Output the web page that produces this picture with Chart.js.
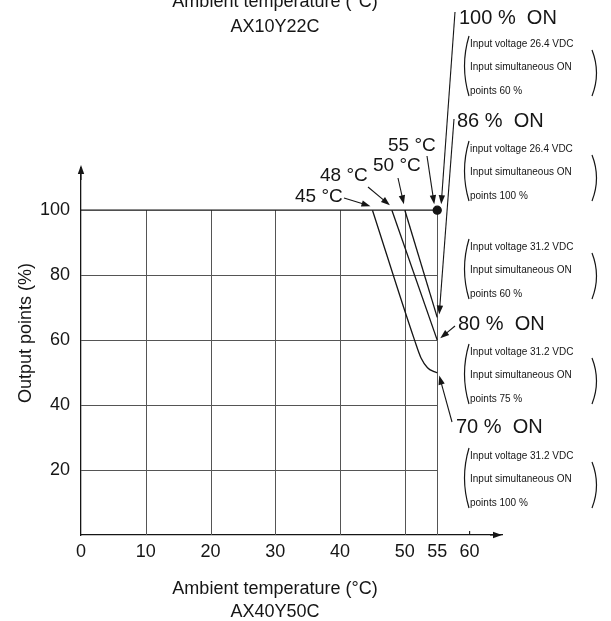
<!DOCTYPE html>
<html>
  <head>
    <title>Derating</title>
    <style>
      body { margin: 0; background: #fff; }
    </style>
  </head>
  <body>
    <canvas id="canvas" width="611" height="621"></canvas>
    <script src="https://cdn.jsdelivr.net/npm/chart.js@4"></script>
    <script>
      // axis ticks
      const xTicks = [0, 10, 20, 30, 40, 50, 55, 60];
      const yTicks = [20, 40, 60, 80, 100];
      const gridX = [10, 20, 30, 40, 50, 55];
      const gridY = [20, 40, 60, 80];

      // derating curves (temperature, output points %)
      const temps100 = [0, 55];
      const vals100 = [100, 100];
      const temps86 = [50, 55];
      const vals86 = [100, 67];
      const temps80 = [48, 55];
      const vals80 = [100, 60];
      const temps70 = [45, 51.5, 52.5, 53.5, 54.5, 55];
      const vals70 = [100, 60, 54.5, 51.5, 50.3, 50];

      // labels
      const startTemps = [45, 48, 50, 55];
      const startLabels = ["45 °C", "48 °C", "50 °C", "55 °C"];
      const onLabels = ["100 %  ON", "86 %  ON", "80 %  ON", "70 %  ON"];
      const conditions = [
        ["Input voltage 26.4 VDC", "Input simultaneous ON", "points 60 %"],
        ["input voltage 26.4 VDC", "Input simultaneous ON", "points 100 %"],
        ["Input voltage 31.2 VDC", "Input simultaneous ON", "points 60 %"],
        ["Input voltage 31.2 VDC", "Input simultaneous ON", "points 75 %"],
        ["Input voltage 31.2 VDC", "Input simultaneous ON", "points 100 %"]
      ];

      const FONT = '"Liberation Sans", Arial, sans-serif';
      const INK = "#151515";

      const pts = (xs, ys) => xs.map((x, i) => ({ x: x, y: ys[i] }));

      function arrow(ctx, x1, y1, x2, y2) {
        const a = Math.atan2(y2 - y1, x2 - x1);
        const len = 9, w = 3.2;
        ctx.beginPath();
        ctx.moveTo(x1, y1);
        ctx.lineTo(x2 - Math.cos(a) * len * 0.8, y2 - Math.sin(a) * len * 0.8);
        ctx.stroke();
        ctx.beginPath();
        ctx.moveTo(x2, y2);
        ctx.lineTo(x2 - Math.cos(a) * len - Math.sin(a) * w, y2 - Math.sin(a) * len + Math.cos(a) * w);
        ctx.lineTo(x2 - Math.cos(a) * len + Math.sin(a) * w, y2 - Math.sin(a) * len - Math.cos(a) * w);
        ctx.closePath();
        ctx.fill();
      }

      function paren(ctx, x, y1, y2, dir) {
        // dir 1 = "(", -1 = ")"
        ctx.beginPath();
        ctx.moveTo(x + dir * 5, y1);
        ctx.quadraticCurveTo(x - dir * 4, (y1 + y2) / 2, x + dir * 5, y2);
        ctx.stroke();
      }

      const decor = {
        id: "decor",
        beforeDatasetsDraw(chart) {
          const ctx = chart.ctx;
          const xs = chart.scales.x, ys = chart.scales.y;
          ctx.save();
          ctx.strokeStyle = "#555";
          ctx.lineWidth = 1;
          gridY.forEach((v) => {
            const y = Math.round(ys.getPixelForValue(v)) + 0.5;
            ctx.beginPath();
            ctx.moveTo(xs.getPixelForValue(0), y);
            ctx.lineTo(xs.getPixelForValue(55), y);
            ctx.stroke();
          });
          gridX.forEach((v) => {
            const x = Math.round(xs.getPixelForValue(v)) + 0.5;
            ctx.beginPath();
            ctx.moveTo(x, ys.getPixelForValue(0));
            ctx.lineTo(x, ys.getPixelForValue(100));
            ctx.stroke();
          });
          ctx.restore();
        },
        afterDraw(chart) {
          const ctx = chart.ctx;
          const xs = chart.scales.x, ys = chart.scales.y;
          const area = chart.chartArea;
          const px = (v) => xs.getPixelForValue(v);
          const py = (v) => ys.getPixelForValue(v);
          ctx.save();
          ctx.fillStyle = INK;
          ctx.strokeStyle = INK;
          ctx.lineWidth = 1.1;

          // axis arrow heads
          arrow(ctx, area.left, area.top + 12, area.left, area.top - 3);
          arrow(ctx, area.right - 12, area.bottom, area.right, area.bottom);
          // small tick at 60
          ctx.beginPath();
          ctx.moveTo(px(60), area.bottom);
          ctx.lineTo(px(60), area.bottom - 4);
          ctx.stroke();

          // axis titles
          ctx.textAlign = "center";
          ctx.textBaseline = "alphabetic";
          ctx.font = "18px " + FONT;
          ctx.fillText("Ambient temperature (°C)", 275, 7);
          ctx.fillText("AX10Y22C", 275, 32);
          ctx.fillText("Ambient temperature (°C)", 275, 594);
          ctx.fillText("AX40Y50C", 275, 617);
          ctx.save();
          ctx.translate(31, 333);
          ctx.rotate(-Math.PI / 2);
          ctx.fillText("Output points (%)", 0, 0);
          ctx.restore();

          // start temperature labels
          const startText = [[295, 197], [320, 176], [373, 166], [388, 146]];
          const startFrom = [[344, 198], [368, 187], [398, 178], [427, 156]];
          const startOff = [[-2, -4], [-2, -5], [-1, -6], [-3, -6]];
          ctx.textAlign = "left";
          ctx.textBaseline = "middle";
          ctx.font = "19px " + FONT;
          startLabels.forEach((t, i) => {
            ctx.fillText(t, startText[i][0], startText[i][1]);
            arrow(ctx, startFrom[i][0], startFrom[i][1],
              px(startTemps[i]) + startOff[i][0], py(100) + startOff[i][1]);
          });

          // "% ON" labels with leaders to curve ends
          const onText = [[459, 18], [457, 121], [458, 324], [456, 427]];
          const onFrom = [[455, 12], [454, 119], [455, 326], [452, 422]];
          const onTarget = [[55, 100, 4, -6], [55, 67, 2, -3], [55, 60, 3, -2], [55, 50, 2, 3]];
          onLabels.forEach((t, i) => {
            ctx.font = "20px " + FONT;
            ctx.fillText(t, onText[i][0], onText[i][1]);
            const tg = onTarget[i];
            arrow(ctx, onFrom[i][0], onFrom[i][1], px(tg[0]) + tg[2], py(tg[1]) + tg[3]);
          });

          // condition blocks
          const blockY = [44, 149, 247, 352, 456];
          ctx.font = "10px " + FONT;
          ctx.lineWidth = 1.2;
          conditions.forEach((lines, b) => {
            const y0 = blockY[b];
            lines.forEach((l, k) => ctx.fillText(l, 470, y0 + k * 23.5));
            paren(ctx, 464, y0 - 8, y0 + 52, 1);
            paren(ctx, 597, y0 + 6, y0 + 52, -1);
          });
          ctx.restore();
        }
      };

      const lineStyle = {
        borderColor: INK,
        backgroundColor: INK,
        borderWidth: 1.3,
        pointRadius: 0,
        showLine: true,
        fill: false
      };

      new Chart(document.getElementById("canvas").getContext("2d"), {
        type: "scatter",
        data: {
          datasets: [
            Object.assign({}, lineStyle, {
              label: "100 % ON",
              data: pts(temps100, vals100),
              pointRadius: [0, 4]
            }),
            Object.assign({}, lineStyle, { label: "86 % ON", data: pts(temps86, vals86) }),
            Object.assign({}, lineStyle, { label: "80 % ON", data: pts(temps80, vals80) }),
            Object.assign({}, lineStyle, {
              label: "70 % ON",
              data: pts(temps70, vals70),
              cubicInterpolationMode: "monotone"
            })
          ]
        },
        options: {
          responsive: false,
          animation: false,
          layout: { padding: { left: 0, top: 168, right: 109, bottom: 56 } },
          plugins: { legend: { display: false }, tooltip: { enabled: false } },
          scales: {
            x: {
              type: "linear",
              min: 0,
              max: 65,
              afterBuildTicks: (s) => { s.ticks = xTicks.map((v) => ({ value: v })); },
              afterFit: (s) => { s.height = 30; },
              grid: { display: false, drawTicks: false },
              border: { display: true, color: INK, width: 1.3 },
              ticks: { color: INK, font: { family: FONT, size: 18 }, padding: 6, maxRotation: 0, autoSkip: false }
            },
            y: {
              type: "linear",
              min: 0,
              max: 113,
              afterBuildTicks: (s) => { s.ticks = yTicks.map((v) => ({ value: v })); },
              afterFit: (s) => { s.width = 81; },
              grid: { display: false, drawTicks: false },
              border: { display: true, color: INK, width: 1.3 },
              ticks: { color: INK, font: { family: FONT, size: 18 }, padding: 11, autoSkip: false }
            }
          }
        },
        plugins: [decor]
      });
    </script>
  </body>
</html>
